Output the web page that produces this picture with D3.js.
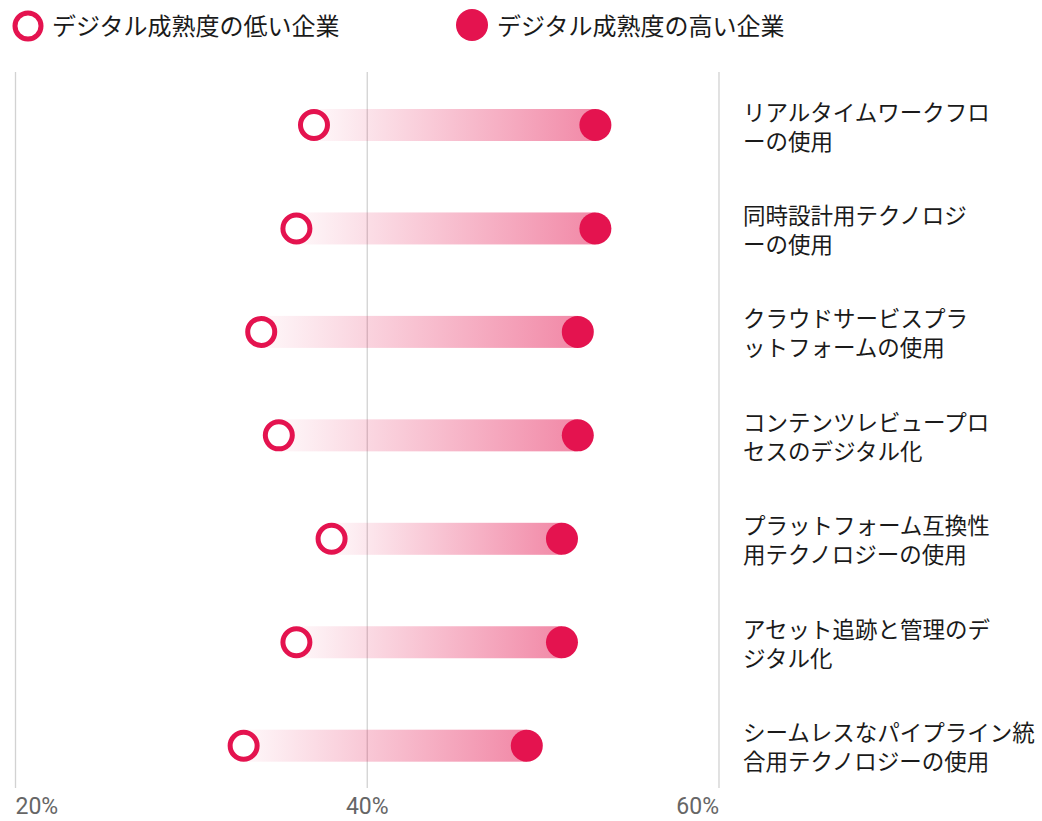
<!DOCTYPE html>
<html lang="ja">
<head>
<meta charset="utf-8">
<script src="https://cdn.jsdelivr.net/npm/d3@7"></script>
<style>
  html, body { margin: 0; padding: 0; background: #fff; }
  svg { display: block; }
</style>
</head>
<body>
<svg id="chart" width="1042" height="821"></svg>
<script>
// Share of companies using each practice, low vs high digital maturity (%)
const categories = [
  "リアルタイムワークフローの使用",
  "同時設計用テクノロジーの使用",
  "クラウドサービスプラットフォームの使用",
  "コンテンツレビュープロセスのデジタル化",
  "プラットフォーム互換性用テクノロジーの使用",
  "アセット追跡と管理のデジタル化",
  "シームレスなパイプライン統合用テクノロジーの使用"
];
// Wrapped label lines, one pair per category
const labelLines = [
  ["リアルタイムワークフロ", "ーの使用"],
  ["同時設計用テクノロジ", "ーの使用"],
  ["クラウドサービスプラ", "ットフォームの使用"],
  ["コンテンツレビュープロ", "セスのデジタル化"],
  ["プラットフォーム互換性", "用テクノロジーの使用"],
  ["アセット追跡と管理のデ", "ジタル化"],
  ["シームレスなパイプライン統", "合用テクノロジーの使用"]
];
const lowMaturity = [37, 36, 34, 35, 38, 36, 33];
const highMaturity = [53, 53, 52, 52, 51.1, 51.1, 49.1];
const tickValues = [20, 40, 60];
const legendLabels = ["デジタル成熟度の低い企業", "デジタル成熟度の高い企業"];

const red = "#e4134f";
const jpFont = "'Noto Sans CJK JP', 'Noto Sans', sans-serif";

const svg = d3.select("#chart");

const x = d3.scaleLinear().domain([20, 60]).range([15, 718.5]);
const y = d3.scalePoint().domain(categories).range([125, 745.7]);

const rows = categories.map((c, i) => ({
  cat: c, lines: labelLines[i], low: lowMaturity[i], high: highMaturity[i]
}));

// gradient for the connecting bands
const defs = svg.append("defs");
const grad = defs.append("linearGradient").attr("id", "band-grad")
  .attr("x1", "0").attr("x2", "1").attr("y1", "0").attr("y2", "0");
grad.append("stop").attr("offset", "0").attr("stop-color", red).attr("stop-opacity", 0.03);
grad.append("stop").attr("offset", "1").attr("stop-color", red).attr("stop-opacity", 0.5);

// vertical gridlines with percentage labels
const axis = d3.axisBottom(x)
  .tickValues(tickValues)
  .tickFormat(d => d + "%")
  .tickSize(-(788 - 72))
  .tickPadding(15);

const axisG = svg.append("g")
  .attr("transform", "translate(0,788)")
  .call(axis);
axisG.select(".domain").remove();
axisG.selectAll(".tick line")
  .attr("stroke", "#d2d2d2")
  .attr("stroke-width", 1.3);
axisG.selectAll(".tick text")
  .attr("fill", "#666")
  .attr("font-family", "Roboto, 'DejaVu Sans', sans-serif")
  .attr("font-size", 23)
  .attr("font-weight", 400)
  .attr("y", 26)
  .attr("dy", null)
  .attr("text-anchor", (d, i) => i === 0 ? "start" : (i === tickValues.length - 1 ? "end" : "middle"));

// bands between the two values
svg.append("g").selectAll("rect")
  .data(rows)
  .join("rect")
  .attr("x", d => x(d.low))
  .attr("width", d => x(d.high) - x(d.low))
  .attr("y", d => y(d.cat) - 16)
  .attr("height", 32)
  .attr("fill", "url(#band-grad)");

// high-maturity dots
svg.append("g").selectAll("circle")
  .data(rows)
  .join("circle")
  .attr("cx", d => x(d.high))
  .attr("cy", d => y(d.cat))
  .attr("r", 16)
  .attr("fill", red);

// low-maturity rings
svg.append("g").selectAll("circle")
  .data(rows)
  .join("circle")
  .attr("cx", d => x(d.low))
  .attr("cy", d => y(d.cat))
  .attr("r", 13.5)
  .attr("fill", "#fff")
  .attr("stroke", red)
  .attr("stroke-width", 5);

// category labels
const labels = svg.append("g").selectAll("text")
  .data(rows)
  .join("text")
  .attr("x", 743)
  .attr("y", d => y(d.cat))
  .attr("font-family", jpFont)
  .attr("font-size", 22.5)
  .attr("fill", "#1a1a1a");
labels.selectAll("tspan")
  .data(d => d.lines.map((t, j) => ({ t, j, yy: y(d.cat) })))
  .join("tspan")
  .attr("x", 743)
  .attr("y", e => e.yy - 4.5 + e.j * 29)
  .text(e => e.t);

// legend
const legend = svg.append("g");
legend.append("circle")
  .attr("cx", 28).attr("cy", 26).attr("r", 13)
  .attr("fill", "#fff").attr("stroke", red).attr("stroke-width", 5);
legend.append("text")
  .attr("x", 52).attr("y", 35)
  .attr("font-family", jpFont).attr("font-size", 24).attr("fill", "#1a1a1a")
  .text(legendLabels[0]);
legend.append("circle")
  .attr("cx", 472).attr("cy", 25).attr("r", 16)
  .attr("fill", red);
legend.append("text")
  .attr("x", 497).attr("y", 35)
  .attr("font-family", jpFont).attr("font-size", 24).attr("fill", "#1a1a1a")
  .text(legendLabels[1]);
</script>
</body>
</html>
